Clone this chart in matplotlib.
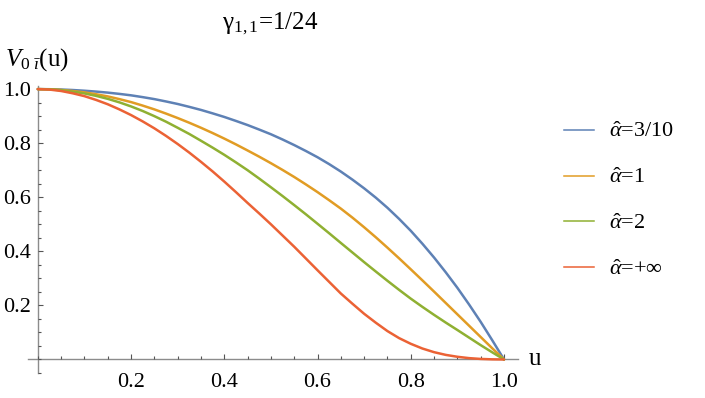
import matplotlib
matplotlib.use("Agg")
import matplotlib.pyplot as plt
from matplotlib.lines import Line2D
from matplotlib.ticker import MultipleLocator, FixedLocator

plt.rcParams['font.family'] = 'serif'
plt.rcParams['font.serif'] = ['Liberation Serif', 'DejaVu Serif']
plt.rcParams['mathtext.fontset'] = 'custom'
plt.rcParams['mathtext.rm'] = 'Liberation Serif'
plt.rcParams['mathtext.it'] = 'Liberation Serif:italic'
plt.rcParams['mathtext.bf'] = 'Liberation Serif:bold'

# values
u = [0.0, 0.025, 0.05, 0.075, 0.1, 0.125, 0.15, 0.175, 0.2, 0.225, 0.25, 0.275, 0.3,
     0.325, 0.35, 0.375, 0.4, 0.425, 0.45, 0.475, 0.5, 0.525, 0.55, 0.575, 0.6, 0.625,
     0.65, 0.675, 0.7, 0.725, 0.75, 0.775, 0.8, 0.825, 0.85, 0.875, 0.9, 0.925, 0.95,
     0.975, 1.0]
v_a03 = [1.000, 0.9996, 0.9985, 0.9966, 0.994, 0.9908, 0.987, 0.9823, 0.977, 0.9703,
         0.963, 0.9543, 0.945, 0.9343, 0.923, 0.9103, 0.897, 0.8823, 0.867, 0.8503,
         0.833, 0.8136, 0.793, 0.7711, 0.748, 0.7225, 0.695, 0.665, 0.633, 0.5985,
         0.561, 0.520, 0.476, 0.428, 0.377, 0.3225, 0.265, 0.2035, 0.139, 0.0705, 0.0]
v_a1 = [1.000, 0.9992, 0.997, 0.9928, 0.988, 0.981, 0.973, 0.963, 0.952, 0.939,
        0.925, 0.9095, 0.893, 0.8755, 0.857, 0.8375, 0.817, 0.7955, 0.773, 0.750,
        0.726, 0.701, 0.675, 0.6475, 0.619, 0.589, 0.558, 0.5245, 0.489, 0.452,
        0.4135, 0.374, 0.3335, 0.2925, 0.251, 0.209, 0.167, 0.125, 0.083, 0.041, 0.0]
v_a2 = [1.000, 0.9992, 0.996, 0.9905, 0.984, 0.975, 0.964, 0.951, 0.936, 0.919,
        0.900, 0.8795, 0.857, 0.834, 0.809, 0.7835, 0.757, 0.729, 0.700, 0.669,
        0.637, 0.6045, 0.571, 0.537, 0.502, 0.4668, 0.431, 0.3955, 0.360, 0.3253,
        0.291, 0.2575, 0.225, 0.1945, 0.165, 0.1365, 0.109, 0.081, 0.053, 0.0262, 0.0]
v_inf = [1.000, 0.9983, 0.993, 0.9845, 0.974, 0.960, 0.944, 0.925, 0.904, 0.8805,
         0.855, 0.827, 0.797, 0.765, 0.731, 0.6955, 0.658, 0.619, 0.579, 0.540,
         0.500, 0.4585, 0.417, 0.3735, 0.330, 0.287, 0.244, 0.206, 0.169, 0.136,
         0.105, 0.079, 0.058, 0.0405, 0.027, 0.017, 0.010, 0.005, 0.002, 0.0005, 0.0]

labels = [r'$\hat{\alpha}$=3/10', r'$\hat{\alpha}$=1', r'$\hat{\alpha}$=2', r'$\hat{\alpha}$=+∞']
colors = ['#5E81B5', '#E19C24', '#8FB032', '#EB6235']
tick_vals = [0.2, 0.4, 0.6, 0.8, 1.0]
tick_labels = ['0.2', '0.4', '0.6', '0.8', '1.0']

fig = plt.figure(figsize=(7.05, 3.98), dpi=100)
ax = fig.add_axes([28 / 705, 1 - 373 / 398, (518 - 28) / 705, (373 - 86.4) / 398])

for vals, c in zip([v_a03, v_a1, v_a2, v_inf], colors):
    ax.plot(u, vals, color=c, lw=1.8, solid_capstyle='round', solid_joinstyle='round')

ax.set_xlim(-0.021, 1.03)
ax.set_ylim(-0.05, 1.01)

for s in ['top', 'right']:
    ax.spines[s].set_visible(False)
ax.spines['left'].set_position(('data', 0))
ax.spines['bottom'].set_position(('data', 0))
for s in ['left', 'bottom']:
    ax.spines[s].set_color('#8c8c8c')
    ax.spines[s].set_linewidth(1.0)
    ax.spines[s].set_zorder(0)

ax.xaxis.set_major_locator(FixedLocator(tick_vals))
ax.yaxis.set_major_locator(FixedLocator(tick_vals))
ax.set_xticklabels(tick_labels)
ax.set_yticklabels(tick_labels)
ax.xaxis.set_minor_locator(MultipleLocator(0.05))
ax.yaxis.set_minor_locator(MultipleLocator(0.05))
ax.tick_params(which='both', direction='in', color='#555555', width=0.8)
ax.tick_params(which='major', length=3.6, labelsize=16)
ax.tick_params(which='minor', length=2.2)
ax.tick_params(axis='x', which='major', pad=10)
ax.tick_params(axis='y', which='major', pad=5)

fig.text(270 / 705, 1 - 24 / 398, r'$\mathrm{γ}_{1,1}$=1/24', ha='center', va='center', fontsize=18)
fig.text(5 / 705, 1 - 60 / 398, r'$V_{0\ \bar{ı}}$(u)', ha='left', va='center', fontsize=18)
fig.text(529 / 705, 1 - 359 / 398, 'u', ha='left', va='center', fontsize=18)

handles = [Line2D([], [], color=c, lw=1.1) for c in colors]
fig.legend(handles, labels, loc='center left', bbox_to_anchor=(564 / 705, 1 - 201 / 398),
           frameon=False, fontsize=16, handlelength=1.35, handletextpad=0.68,
           labelspacing=1.14, borderpad=0, borderaxespad=0)

fig.savefig('out.png', dpi=100)
